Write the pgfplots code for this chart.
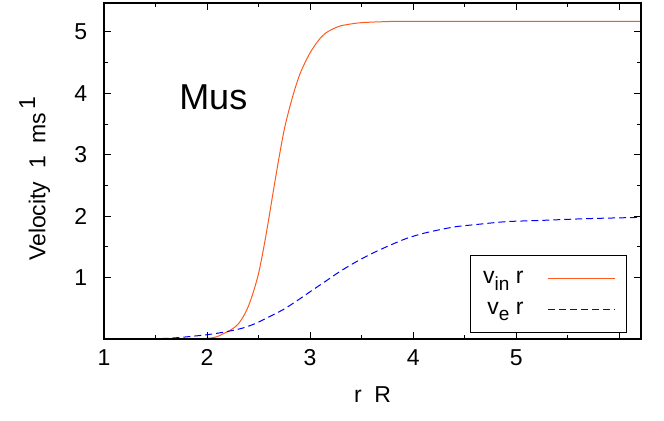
\documentclass[border=0pt]{standalone}
\usepackage{pgfplots}
\pgfplotsset{compat=1.18}
\usepackage{fontspec}
\setmainfont{Liberation Sans}
\definecolor{vin}{RGB}{255,90,30}
\newcommand{\fs}{\fontsize{23bp}{27bp}\selectfont}
\newcommand{\sub}[1]{\raisebox{-0.3em}{\fontsize{19bp}{19bp}\selectfont #1}}
\begin{document}
\fs
\begin{tikzpicture}
\begin{axis}[
  scale only axis,
  width=537bp, height=336bp,
  xmin=1, xmax=6.21, ymin=0, ymax=5.47,
  axis on top,
  axis line style={line width=1.6bp},
  tick style={line width=1bp, black},
  tick align=inside,
  xtick pos=both, ytick pos=both,
  xtick={1,2,3,4,5,6}, xticklabels={1,2,3,4,5,},
  ytick={1,2,3,4,5},
  minor x tick num=1, minor y tick num=1,
  major tick length=7bp, minor tick length=4bp,
  /pgf/number format/assume math mode=true,
  ticklabel style={font=\fs},
  xticklabel style={yshift=-3bp},
  yticklabel style={xshift=-9bp},
  xlabel={r\hspace{0.55em}R},
  ylabel={Velocity\hspace{0.55em}1\hspace{0.55em}ms\hspace{0.15em}\raisebox{0.45em}{1}},
  label style={font=\fs},
  xlabel style={at={(axis description cs:0.5,-0.166)}, anchor=center},
  ylabel style={at={(axis description cs:-0.129,0.477)}, anchor=center},
  legend plot pos=right,
  legend cell align=right,
  legend style={at={(1,0)}, anchor=south east, xshift=-14bp, yshift=6bp,
    draw=black, line width=1bp, font=\fs,
    inner xsep=11bp, inner ysep=13bp, row sep=11bp,
    /tikz/every odd column/.append style={column sep=22bp}},
  legend image code/.code={\draw[#1, line width=1bp] (0bp,0bp) -- (67bp,0bp);},
]
\addplot[vin, line width=1bp, smooth] coordinates {
(1.9,0)(2.0,0.01)(2.05,0.02)(2.1,0.04)(2.15,0.08)(2.2,0.12)(2.25,0.17)(2.3,0.24)(2.35,0.36)(2.4,0.53)(2.45,0.77)(2.5,1.07)(2.55,1.49)(2.6,1.97)(2.65,2.48)(2.7,2.97)(2.75,3.42)(2.8,3.76)(2.85,4.06)(2.9,4.31)(2.95,4.50)(3.0,4.66)(3.05,4.79)(3.1,4.90)(3.15,4.98)(3.2,5.03)(3.25,5.07)(3.3,5.10)(3.4,5.13)(3.5,5.15)(3.7,5.165)(4.0,5.17)(6.21,5.17)
};
\addlegendentry{v\sub{in} r}
\addplot[blue, line width=1bp, dash pattern=on 7bp off 4bp, smooth] coordinates {
(1.45,0)(1.7,0.02)(2.0,0.07)(2.19,0.12)(2.35,0.18)(2.48,0.26)(2.6,0.36)(2.74,0.48)(2.87,0.62)(3.0,0.77)(3.15,0.94)(3.29,1.10)(3.45,1.26)(3.61,1.40)(3.78,1.53)(3.94,1.64)(4.1,1.72)(4.26,1.78)(4.42,1.83)(4.59,1.86)(4.9,1.91)(5.23,1.93)(5.7,1.96)(6.21,1.98)
};
\addlegendentry{v\sub{e} r}
\node[font=\fontsize{36bp}{40bp}\selectfont] at (axis cs:2.06,3.94) {Mus};
\end{axis}
\pgfresetboundingbox
\path[use as bounding box] ([shift={(-104bp,-82bp)}]current axis.south west) rectangle ++(664bp,421bp);
\end{tikzpicture}
\end{document}
